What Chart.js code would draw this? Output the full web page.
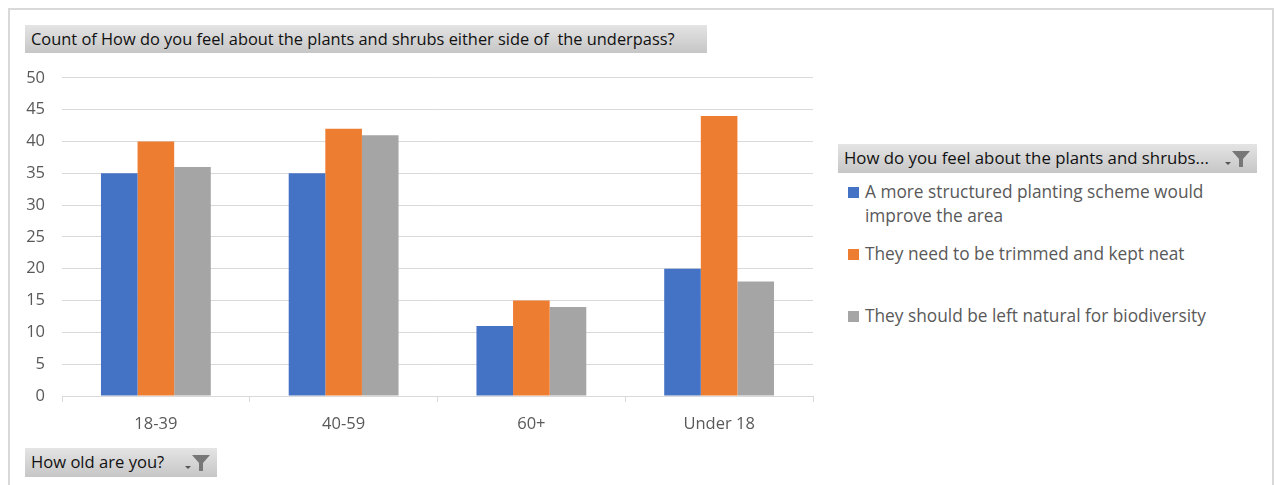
<!DOCTYPE html>
<html>
<head>
<meta charset="utf-8">
<script src="https://cdn.jsdelivr.net/npm/chart.js@4/dist/chart.umd.min.js"></script>
<style>
  body { margin: 0; background: #fff; width: 1276px; height: 485px; overflow: hidden; position: relative; font-family: "Open Sans", sans-serif; }
  .frame { position: absolute; left: 8px; top: 8px; width: 1262px; height: 500px; border: 2px solid #d9d9d9; }
  .btn { position: absolute; background: linear-gradient(#e4e4e4, #c6c6c6); color: #111; font-family: "Open Sans", sans-serif; font-size: 16.4px; line-height: 28px; padding-left: 6px; box-sizing: border-box; white-space: nowrap; }
  .btn svg { position: absolute; top: 6px; }
  #wrap { position: absolute; left: 20px; top: 51px; width: 800px; height: 389px; }
  .legend { position: absolute; left: 848px; top: 180px; width: 420px; color: #595959; font-size: 17.3px; }
  .item { position: absolute; left: 0; padding-left: 17px; line-height: 24px; white-space: nowrap; }
  .item i { position: absolute; left: 0; top: 7px; width: 11px; height: 11px; }
</style>
</head>
<body>
<div class="frame"></div>
<div class="btn" style="left:25px;top:25px;width:682px;height:28px;">Count of How do you feel about the plants and shrubs either side of&nbsp; the underpass?</div>
<div id="wrap"><canvas id="chart"></canvas></div>
<div class="btn" style="left:838px;top:144px;width:419px;height:29px;font-size:16.8px;">How do you feel about the plants and shrubs...
  <svg style="left:385px" width="28" height="18" viewBox="0 0 28 18"><path d="M2 12 L8 12 L5 15 Z" fill="#555"/><path d="M9 1 L27 1 L20 9 L20 17 L16 17 L16 9 Z" fill="#777"/></svg></div>
<div class="btn" style="left:25px;top:448px;width:192px;height:29px;font-size:16.6px;">How old are you?
  <svg style="left:158px" width="28" height="18" viewBox="0 0 28 18"><path d="M2 12 L8 12 L5 15 Z" fill="#555"/><path d="M9 1 L27 1 L20 9 L20 17 L16 17 L16 9 Z" fill="#777"/></svg></div>
<div class="legend" id="legend"></div>
<script>
const categories = ['18-39', '40-59', '60+', 'Under 18'];
const seriesNames = [
  'A more structured planting scheme would improve the area',
  'They need to be trimmed and kept neat',
  'They should be left natural for biodiversity'
];
const structured = [35, 35, 11, 20];
const trimmed = [40, 42, 15, 44];
const natural = [36, 41, 14, 18];
const colours = ['#4472c4', '#ed7d31', '#a5a5a5'];

const values = [structured, trimmed, natural];

// legend in html, like the excel field list
const legend = document.getElementById('legend');
const legendTops = [0, 62, 124];
const legendLabels = [
  'A more structured planting scheme would<br>improve the area',
  seriesNames[1],
  seriesNames[2]
];
legendLabels.forEach((txt, i) => {
  let d = document.createElement('div');
  d.className = 'item';
  d.style.top = legendTops[i] + 'px';
  d.innerHTML = '<i style="background:' + colours[i] + '"></i>' + txt;
  legend.appendChild(d);
});

new Chart(document.getElementById('chart'), {
  type: 'bar',
  data: {
    labels: categories,
    datasets: values.map((v, i) => ({
      label: seriesNames[i],
      data: v,
      backgroundColor: colours[i],
      borderWidth: 0,
      categoryPercentage: 0.585,
      barPercentage: 1
    }))
  },
  options: {
    responsive: true,
    maintainAspectRatio: false,
    animation: false,
    layout: { padding: { top: 12, right: 7, left: 0, bottom: 0 } },
    plugins: { legend: { display: false }, tooltip: { enabled: false } },
    scales: {
      x: {
        grid: { display: true, drawOnChartArea: false, offset: true, tickLength: 6, color: '#d9d9d9', lineWidth: 1 },
        border: { color: '#d9d9d9', width: 1 },
        ticks: { color: '#595959', font: { family: 'Open Sans', size: 16.5 }, padding: 12 },
        afterFit: ax => { ax.height = 44; }
      },
      y: {
        min: 0,
        max: 50,
        ticks: { stepSize: 5, color: '#595959', font: { family: 'Open Sans', size: 16.5 }, padding: 17 },
        grid: { color: '#d9d9d9', lineWidth: 1, drawTicks: false },
        border: { display: false },
        afterFit: ax => { ax.width = 42; }
      }
    }
  }
});
</script>
</body>
</html>
